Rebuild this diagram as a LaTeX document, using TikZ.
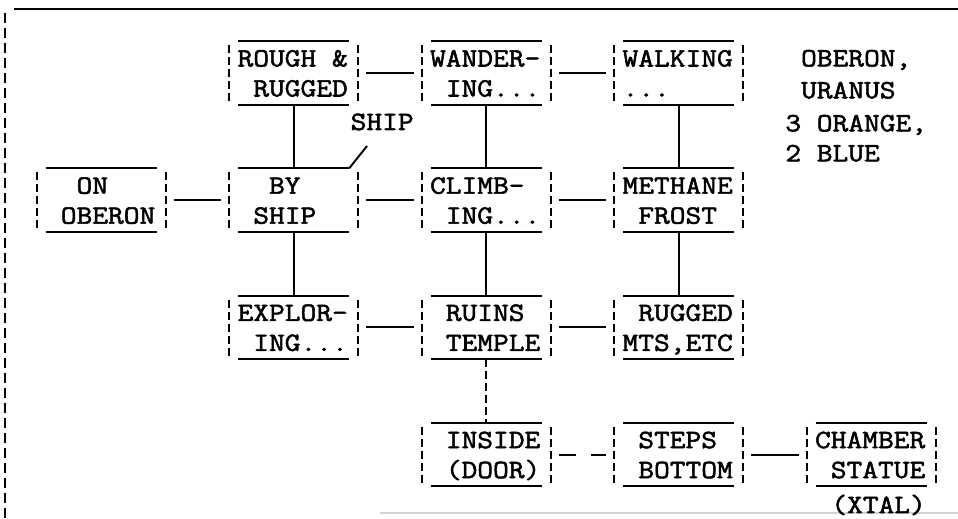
\documentclass[tikz,border=0pt]{standalone}
\usepackage{fontspec}
\newfontfamily\typewr[FakeStretch=1.16, FakeBold=2]{Latin Modern Mono}
\usetikzlibrary{calc}

% one typed line, no height of its own
\newcommand{\tline}[1]{\hbox to 2.2456cm{\smash{#1}\hss}}
\newcommand{\twoline}[2]{\vbox to 1.26cm{\offinterlineskip\vskip0.5cm
  \tline{#1}\vskip0.6cm\tline{#2}\vss}}

\tikzset{
  rule/.style={line width=1.1pt},
  bar/.style={line width=1.1pt, dash pattern=on 0.16cm off 0.08cm},
  note/.style={inner sep=0pt, font=\typewr\fontsize{15pt}{18pt}\selectfont},
  tbox/.style={note, inner xsep=0.1604cm,
    append after command={
      ([xshift=0.18cm]\tikzlastnode.north west) edge[rule] ([xshift=-0.18cm]\tikzlastnode.north east)
      ([xshift=0.18cm]\tikzlastnode.south west) edge[rule] ([xshift=-0.18cm]\tikzlastnode.south east)
      ([yshift=-0.08cm]\tikzlastnode.north west) edge[bar] ([yshift=0.04cm]\tikzlastnode.south west)
      ([yshift=-0.08cm]\tikzlastnode.north east) edge[bar] ([yshift=0.04cm]\tikzlastnode.south east)}},
  link/.style={rule, shorten <=0.16cm, shorten >=0.16cm}
}

\begin{document}
\begin{tikzpicture}[x=0.02cm, y=-0.02cm]
\useasboundingbox (0,0) rectangle (958,519);

% frame
\draw[rule] (14,9) -- (958,9);
\draw[rule, dash pattern=on 0.2cm off 0.1cm] (5,13) -- (5,519);
\draw[gray!35, line width=1pt] (380,513) -- (958,513);

\node[tbox] (on) at (101.2,200.2) {\twoline{~~ON}{~OBERON}};

\node[tbox] (rough) at (293.7,73) {\twoline{ROUGH~\&}{~RUGGED}};
\node[tbox] (ship) at (293.7,200.2) {\twoline{~~BY}{~SHIP}};
\node[tbox] (explor) at (293.7,327.4) {\twoline{EXPLOR-}{~ING...}};

\node[tbox] (wander) at (486.2,73) {\twoline{WANDER-}{~ING...}};
\node[tbox] (climb) at (486.2,200.2) {\twoline{CLIMB-}{~ING...}};
\node[tbox] (ruins) at (486.2,327.4) {\twoline{~RUINS}{~TEMPLE}};
\node[tbox] (inside) at (486.2,454.6) {\twoline{~INSIDE}{~(DOOR)}};

\node[tbox] (walk) at (678.7,73) {\twoline{WALKING}{...}};
\node[tbox] (methane) at (678.7,200.2) {\twoline{METHANE}{~FROST}};
\node[tbox] (rugged) at (678.7,327.4) {\twoline{~RUGGED}{MTS,ETC}};
\node[tbox] (steps) at (678.7,454.6) {\twoline{~STEPS}{~BOTTOM}};

\node[tbox] (chamber) at (871.2,454.6) {\twoline{CHAMBER}{~STATUE}};
\node[note, anchor=base west] (xtal) at (831,513) {(XTAL)};

\node[note, anchor=base west] (shiplbl) at (350.3,130) {SHIP};
\coordinate (shiptip) at (367,146);

\node[note, anchor=north west] (moons) at (785,66)
  {\vbox{\offinterlineskip\tline{~OBERON,}\vskip0.64cm\tline{~URANUS}\vskip0.66cm
   \tline{3~ORANGE,}\vskip0.6cm\tline{2~BLUE}}};

\draw[link] (on) -- (ship);
\draw[link] (rough) -- (wander);
\draw[link] (wander) -- (walk);
\draw[link] (ship) -- (climb);
\draw[link] (climb) -- (methane);
\draw[link] (explor) -- (ruins);
\draw[link] (ruins) -- (rugged);
\draw[link, dash pattern=on 0.34cm off 0.3cm] (inside) -- (steps);
\draw[link] (steps) -- (chamber);

\draw[rule] (rough) -- (ship);
\draw[rule] (ship) -- (explor);
\draw[rule] (wander) -- (climb);
\draw[rule] (climb) -- (ruins);
\draw[bar] (ruins) -- (inside);
\draw[rule] (walk) -- (methane);
\draw[rule] (methane) -- (rugged);

\draw[rule] ([xshift=-0.18cm]ship.north east) -- (shiptip);
\end{tikzpicture}
\end{document}
